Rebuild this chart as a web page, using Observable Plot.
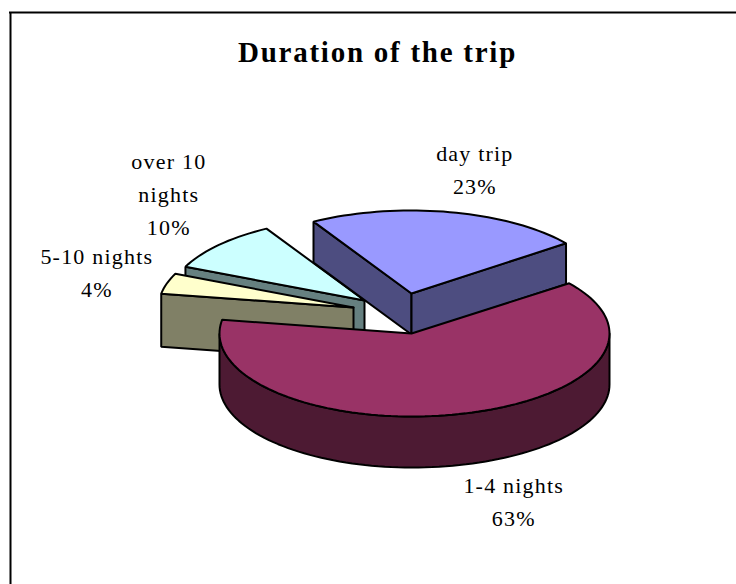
<!DOCTYPE html>
<html>
<head>
<meta charset="utf-8">
<script src="https://cdn.jsdelivr.net/npm/d3@7"></script>
<script src="https://cdn.jsdelivr.net/npm/@observablehq/plot@0.6"></script>
<style>
html,body{margin:0;padding:0;background:#fff}
svg{display:block}
.lbl text,text.lbl{letter-spacing:1.2px}
.ttl text,text.ttl{letter-spacing:1.75px}
</style>
</head>
<body>
<div id="chart"></div>
<script>
const chartTitle = "Duration of the trip";
const categories = ["day trip", "1-4 nights", "5-10 nights", "over 10 nights"];
const labelLines = ["day trip", "1-4 nights", "5-10 nights", "over 10\nnights"];
const values = [23, 63, 4, 10];
const topColors = ["#9999ff", "#993366", "#ffffcc", "#ccffff"];
const sideColors = ["#4d4d80", "#4d1a33", "#808066", "#668080"];

// Layout of the exploded, tilted pie (one entry per category)
const width = 736, height = 584;
const startAngle = -30;
const ry = 83;
const apexX = [411, 411, 353, 364];
const apexY = [293, 333, 307, 300];
const rxRight = [194, 198, 196, 196];
const rxLeft = [196, 192, 195, 196];
const depth = [41, 51, 53, 41];
const labelDx = [25, 55, -70, -50];
const labelDy = [-45.5, 84.5, -14, -54];
const drawOrder = [3, 2, 0, 1];

const rad = d => d * Math.PI / 180;
let cum = startAngle;
const slices = categories.map((name, i) => {
  const a0 = cum, a1 = cum + values[i] * 3.6;
  cum = a1;
  const rim = (a, off = 0) => {
    const s = Math.sin(rad(a));
    return {x: apexX[i] + s * (s > 0 ? rxRight[i] : rxLeft[i]), y: apexY[i] - ry * Math.cos(rad(a)) + off};
  };
  return {i, name, a0, a1, rim, apex: {x: apexX[i], y: apexY[i]}, depth: depth[i]};
});

const arc = (s, from, to, off = 0) => {
  const n = Math.max(2, Math.ceil(Math.abs(to - from) / 2));
  return d3.range(n + 1).map(k => s.rim(from + (to - from) * k / n, off));
};
const closed = pts => [...pts, pts[0]];
const poly = (pts, fill) => Plot.line(closed(pts), {
  x: "x", y: "y", fill, stroke: "#000", strokeWidth: 2,
  curve: "linear", strokeLinejoin: "miter"
});

const marks = [
  Plot.ruleX([10], {y1: 12, y2: height, stroke: "#000", strokeWidth: 2}),
  Plot.ruleY([12], {x1: 9, x2: width, stroke: "#000", strokeWidth: 2})
];

for (const idx of drawOrder) {
  const s = slices[idx];
  const wall = sideColors[idx];
  const {apex, depth: t} = s;
  const low = p => ({x: p.x, y: p.y + t});
  // radial cut walls that face the viewer
  if (Math.sin(rad(s.a0)) < 0) {
    const p = s.rim(s.a0);
    marks.push(poly([apex, p, low(p), low(apex)], wall));
  }
  if (Math.sin(rad(s.a1)) > 0) {
    const p = s.rim(s.a1);
    marks.push(poly([apex, p, low(p), low(apex)], wall));
  }
  // outer rounded wall, front half only
  const w0 = Math.max(s.a0, 90), w1 = Math.min(s.a1, 270);
  if (w1 > w0) {
    marks.push(poly([...arc(s, w0, w1), ...arc(s, w1, w0, t)], wall));
  }
  // top face
  marks.push(poly([apex, ...arc(s, s.a0, s.a1)], topColors[idx]));
}

const labels = slices.map(s => {
  const mid = s.rim((s.a0 + s.a1) / 2);
  return {
    x: mid.x + labelDx[s.i],
    y: mid.y + labelDy[s.i],
    text: `${labelLines[s.i]}\n${values[s.i]}%`
  };
});

marks.push(Plot.text(labels, {
  x: "x", y: "y", text: "text", lineAnchor: "middle", lineHeight: 1.5,
  fontSize: 22, fill: "#000", textAnchor: "middle", className: "lbl"
}));
marks.push(Plot.text([chartTitle], {
  frameAnchor: "top", dx: 9, dy: 41, fontSize: 29, fontWeight: "bold",
  fill: "#000", lineAnchor: "top", className: "ttl"
}));

const chart = Plot.plot({
  width, height,
  margin: 0,
  x: {domain: [0, width], range: [0, width], axis: null},
  y: {domain: [0, height], range: [0, height], axis: null},
  style: {fontFamily: "'Liberation Serif', serif", background: "#fff"},
  marks
});
document.getElementById("chart").append(chart);
</script>
</body>
</html>
